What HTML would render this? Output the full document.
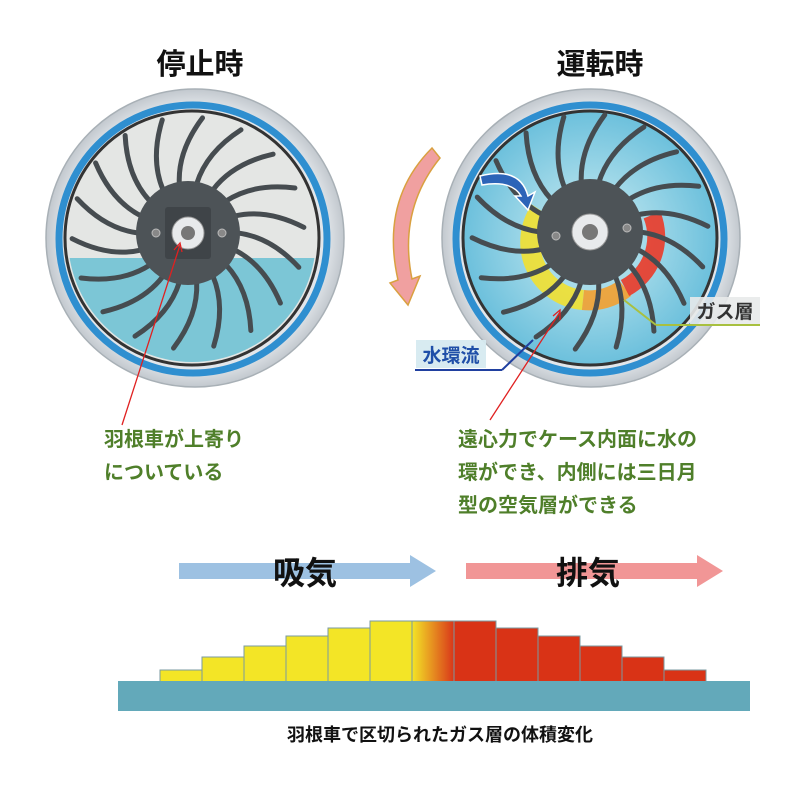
<!DOCTYPE html>
<html><head><meta charset="utf-8"><style>
html,body{margin:0;padding:0;background:#fff;width:800px;height:789px;overflow:hidden}
svg{display:block}
.t{font-family:"Liberation Sans","Noto Sans CJK JP",sans-serif;font-weight:bold}
</style></head><body>
<svg id="s" width="800" height="789" viewBox="0 0 800 789" xmlns="http://www.w3.org/2000/svg">
<defs>
<radialGradient id="rim" cx="50%" cy="50%" r="50%">
<stop offset="88%" stop-color="#e2e6ea"/><stop offset="100%" stop-color="#c2c8ce"/></radialGradient>
<linearGradient id="mix" x1="0" x2="1"><stop offset="0" stop-color="#f3e526"/><stop offset="1" stop-color="#d9361a"/></linearGradient>
<clipPath id="lc"><circle cx="192" cy="238" r="124"/></clipPath>
<radialGradient id="rw" cx="50%" cy="50%" r="50%"><stop offset="40%" stop-color="#a8dcea"/><stop offset="100%" stop-color="#6cc0dc"/></radialGradient>
</defs>

<text class="t" x="200" y="74" font-size="29" text-anchor="middle" fill="#111">停止時</text>
<text class="t" x="600" y="74" font-size="29" text-anchor="middle" fill="#111">運転時</text>

<!-- left wheel -->
<circle cx="195" cy="238" r="149" fill="url(#rim)" stroke="#a8b0b6" stroke-width="1.5"/>
<circle cx="193" cy="239" r="134" fill="none" stroke="#2f8fd0" stroke-width="7"/>
<circle cx="192" cy="238" r="127" fill="#e4e6e4" stroke="#333" stroke-width="3"/>
<rect x="60" y="258" width="270" height="120" fill="#7cc6d6" clip-path="url(#lc)"/>
<g id="lb"></g>
<circle cx="188" cy="233" r="52" fill="#4d5357"/>
<rect x="165" y="207" width="46" height="52" rx="3" fill="#3f4448"/>
<circle cx="188" cy="233" r="16" fill="#e8eaec" stroke="#999"/>
<circle cx="188" cy="233" r="7" fill="#777"/>
<circle cx="156" cy="233" r="4" fill="#888" stroke="#bbb"/>
<circle cx="222" cy="233" r="4" fill="#888" stroke="#bbb"/>
<line x1="122" y1="425" x2="180" y2="245" stroke="#e02020" stroke-width="1.3"/>
<path d="M174 250 L180 243 L182 252" fill="none" stroke="#e02020" stroke-width="1.3"/>

<!-- right wheel -->
<circle cx="591" cy="238" r="149" fill="url(#rim)" stroke="#a8b0b6" stroke-width="1.5"/>
<circle cx="590" cy="239" r="134" fill="none" stroke="#2f8fd0" stroke-width="7"/>
<circle cx="590" cy="238" r="127" fill="url(#rw)" stroke="#333" stroke-width="3"/>
<path d="M540 210 A58 58 0 0 0 583 300" fill="none" stroke="#f2e030" stroke-width="20" opacity=".9"/>
<path d="M583 300 A58 58 0 0 0 625 288" fill="none" stroke="#f3a030" stroke-width="20" opacity=".9"/>
<path d="M625 288 A58 58 0 0 0 652 215" fill="none" stroke="#ea3a28" stroke-width="18" opacity=".9"/>
<g id="rb"></g>
<circle cx="590" cy="232" r="53" fill="#4d5357"/>
<circle cx="590" cy="232" r="18" fill="#e8eaec" stroke="#999"/>
<circle cx="590" cy="232" r="8" fill="#777"/>
<circle cx="556" cy="236" r="4" fill="#888" stroke="#bbb"/>
<circle cx="627" cy="228" r="4" fill="#888" stroke="#bbb"/>
<path d="M480 176 Q520 166 528 196 L535 192 L528 210 L515 196 L521 196 Q512 180 482 185 Z" fill="#2c64b8" stroke="#fff" stroke-width="1.5"/>
<!-- rotation arrow -->
<path d="M432 148 Q380 200 398 280 L390 283 L408 305 L420 276 L412 279 Q398 210 440 158 Z" fill="#f0a0a0" stroke="#d9a040" stroke-width="1.5"/>
<!-- labels -->
<line x1="624" y1="300" x2="656" y2="325" stroke="#a8c040" stroke-width="2"/>
<line x1="656" y1="325" x2="760" y2="325" stroke="#a8c040" stroke-width="2"/>
<rect x="690" y="297" width="70" height="27" fill="#e8eaea" opacity=".9"/>
<text class="t" x="725" y="318" font-size="19" text-anchor="middle" fill="#333">ガス層</text>
<line x1="533" y1="340" x2="502" y2="370" stroke="#2040a0" stroke-width="2"/>
<line x1="415" y1="370" x2="502" y2="370" stroke="#2040a0" stroke-width="2"/>
<rect x="416" y="340" width="70" height="28" fill="#d6eaf0" opacity=".95"/>
<text class="t" x="451" y="362" font-size="19" text-anchor="middle" fill="#1f4fa8">水環流</text>
<line x1="490" y1="420" x2="560" y2="312" stroke="#e02020" stroke-width="1.3"/>
<path d="M553 316 L560 310 L560 320" fill="none" stroke="#e02020" stroke-width="1.3"/>

<g class="t" font-size="20" fill="#4f7f2a">
<text x="104" y="446">羽根車が上寄り</text>
<text x="104" y="479">についている</text>
<text x="458" y="446">遠心力でケース内面に水の</text>
<text x="458" y="479">環ができ、内側には三日月</text>
<text x="458" y="512">型の空気層ができる</text>
</g>

<!-- flow arrows -->
<path d="M179 563 H410 V555 L436 571 L410 587 V579 H179 Z" fill="#9dc1e2"/>
<path d="M466 563 H697 V555 L723 571 L697 587 V579 H466 Z" fill="#f19696"/>
<text class="t" x="305" y="584" font-size="32" text-anchor="middle" fill="#111">吸気</text>
<text class="t" x="588" y="584" font-size="32" text-anchor="middle" fill="#111">排気</text>

<!-- bars -->
<g stroke="#7a9aa0" stroke-width="1">
<rect x="160" y="670" width="42" height="12" fill="#f3e526"/>
<rect x="202" y="657" width="42" height="25" fill="#f3e526"/>
<rect x="244" y="646" width="42" height="36" fill="#f3e526"/>
<rect x="286" y="636" width="42" height="46" fill="#f3e526"/>
<rect x="328" y="628" width="42" height="54" fill="#f3e526"/>
<rect x="370" y="621" width="42" height="61" fill="#f3e526"/>
<rect x="412" y="621" width="42" height="61" fill="url(#mix)"/>
<rect x="454" y="621" width="42" height="61" fill="#d93316"/>
<rect x="496" y="628" width="42" height="54" fill="#d93316"/>
<rect x="538" y="636" width="42" height="46" fill="#d93316"/>
<rect x="580" y="646" width="42" height="36" fill="#d93316"/>
<rect x="622" y="657" width="42" height="25" fill="#d93316"/>
<rect x="664" y="670" width="42" height="12" fill="#d93316"/>
</g>
<rect x="118" y="681" width="632" height="30" fill="#63a9ba"/>
<text class="t" x="440" y="741" font-size="18" text-anchor="middle" fill="#111">羽根車で区切られたガス層の体積変化</text>
</svg>
<script>
function blades(g,cx,cy,r1,r2){
 var n=18,s="";
 for(var i=0;i<n;i++){
  var a=i*2*Math.PI/n, b=a+0.3;
  var x1=cx+r1*Math.cos(a),y1=cy+r1*Math.sin(a);
  var x2=cx+r2*Math.cos(b),y2=cy+r2*Math.sin(b);
  var am=a+0.05, rm=(r1+r2)/2;
  var qx=cx+rm*Math.cos(am),qy=cy+rm*Math.sin(am);
  s+='<path d="M'+x1+' '+y1+' Q'+qx+' '+qy+' '+x2+' '+y2+'" fill="none" stroke="#464c50" stroke-width="5" stroke-linecap="round"/>';
 }
 document.getElementById(g).innerHTML=s;
}
blades("lb",188,233,50,116);
blades("rb",590,232,50,118);
</script>
</body></html>
